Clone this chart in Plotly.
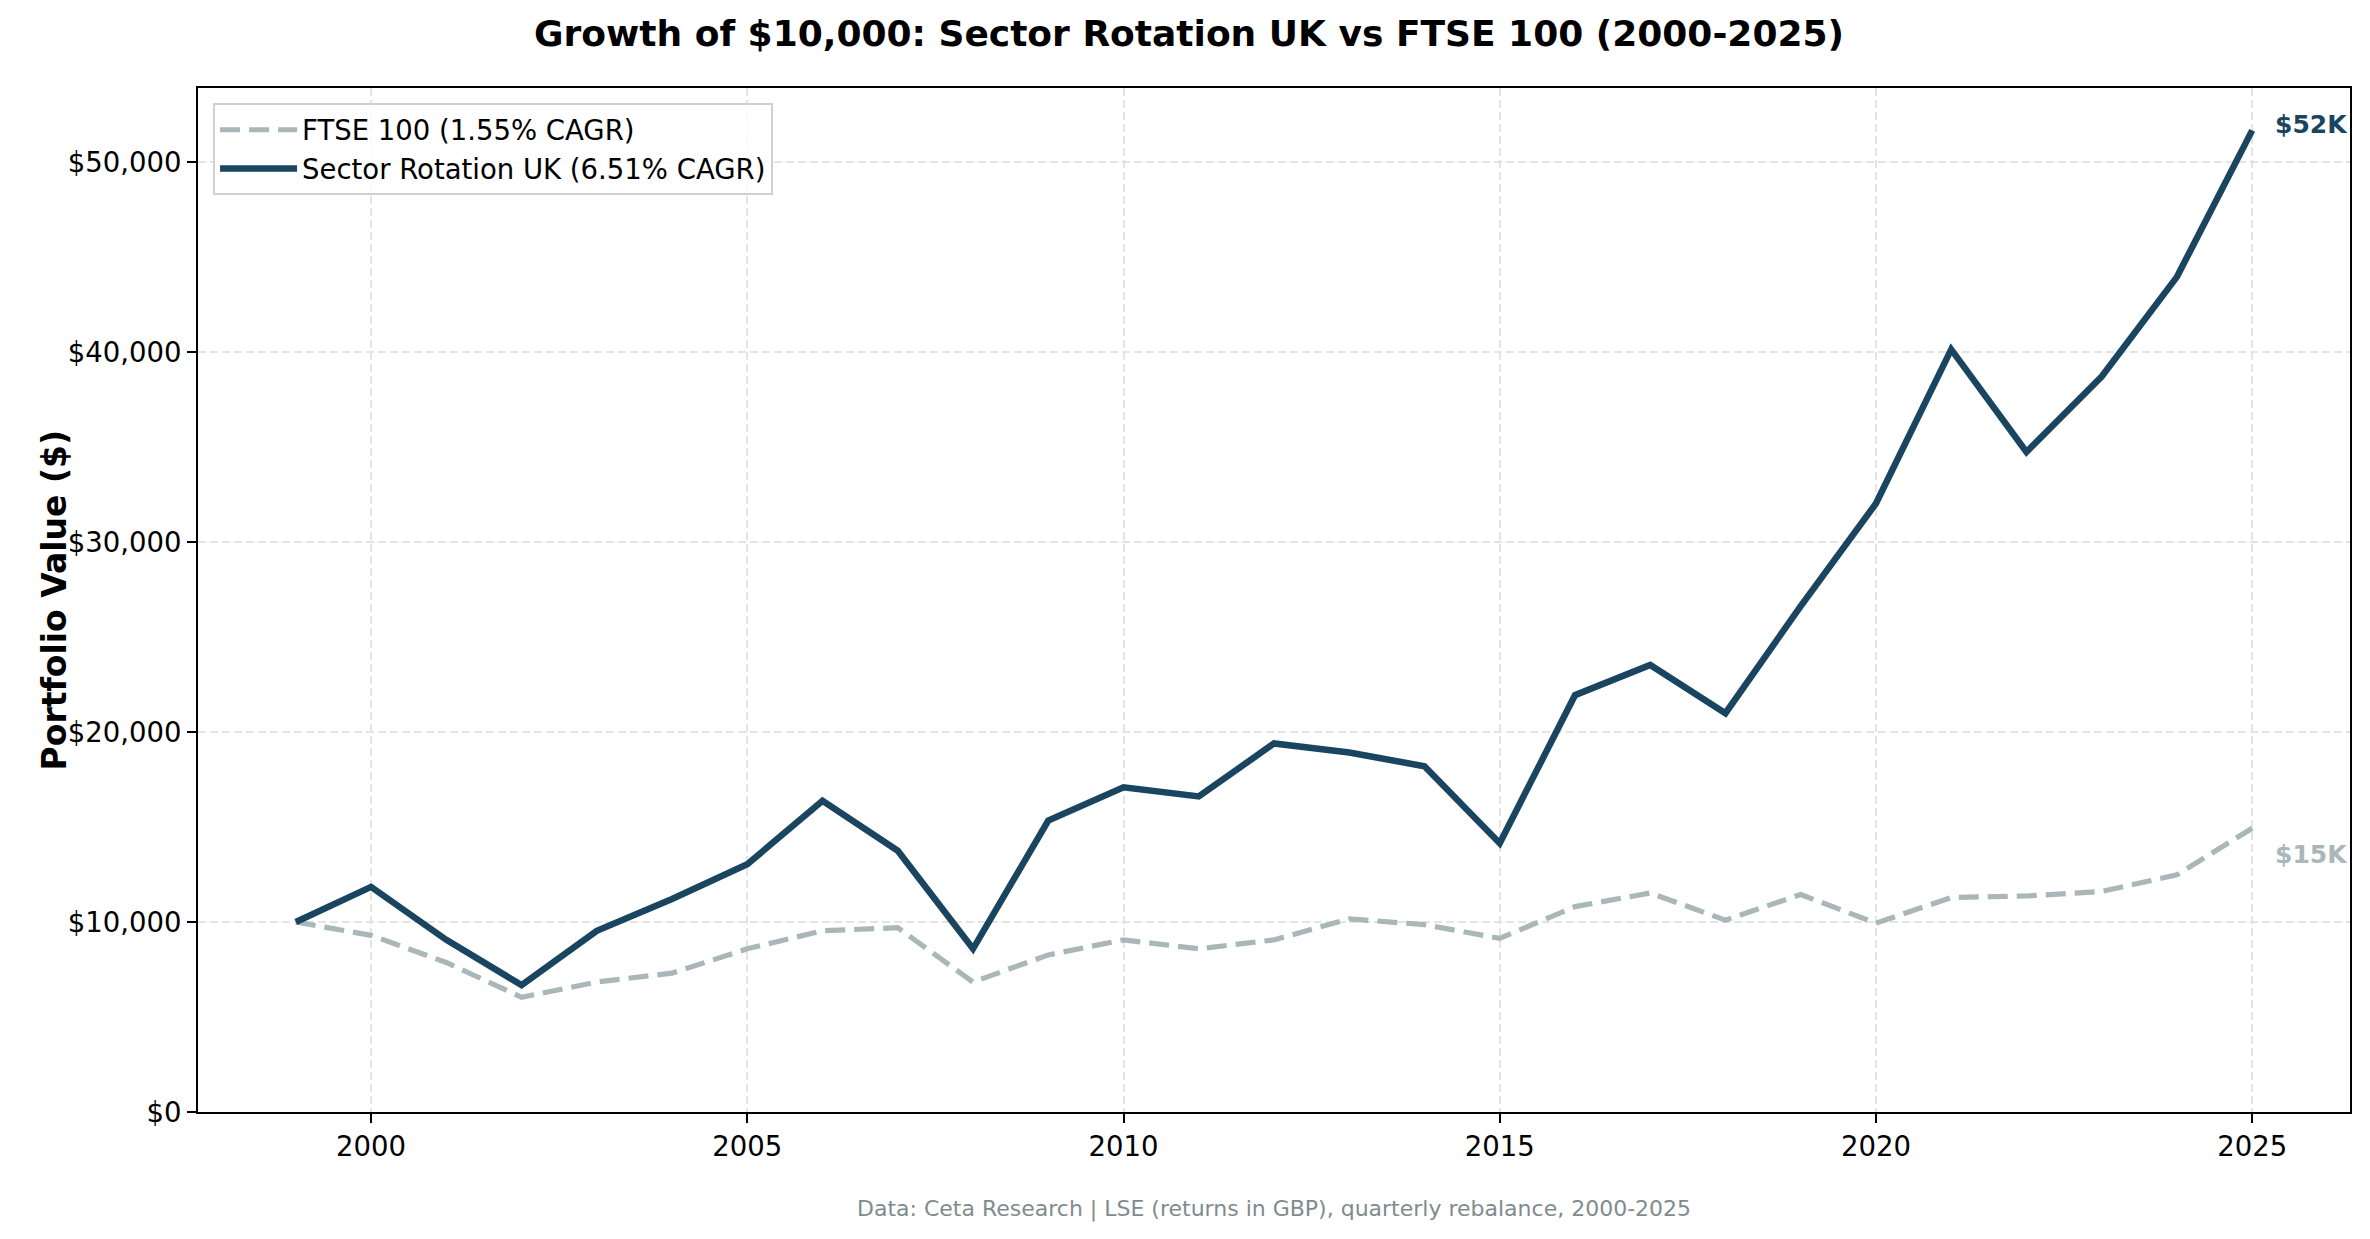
import plotly.graph_objs as go

# values (year-end portfolio values, $)
years = list(range(1999, 2026))
sector_rotation = [10000, 11850, 9060, 6680, 9540, 11210, 13040, 16380, 13750, 8590,
                   15340, 17090, 16610, 19400, 18920, 18200, 14150, 21940, 23530, 20990,
                   26630, 32030, 40140, 34740, 38710, 43960, 51670]
ftse_100 = [10000, 9300, 7870, 6040, 6840, 7310, 8590, 9540, 9700, 6840,
            8270, 9060, 8590, 9060, 10170, 9860, 9140, 10810, 11530, 10100,
            11450, 9940, 11290, 11370, 11610, 12480, 14940]
series_names = ["FTSE 100 (1.55% CAGR)", "Sector Rotation UK (6.51% CAGR)"]
end_labels = ["$15K", "$52K"]

NAVY = "#1a4560"
GREY = "#aab7b8"
FONT = "DejaVu Sans"

fig = go.Figure()
fig.add_trace(go.Scatter(
    x=years, y=ftse_100, mode="lines", name=series_names[0],
    line=dict(color=GREY, width=5.2, dash="20px,9px")))
fig.add_trace(go.Scatter(
    x=years, y=sector_rotation, mode="lines", name=series_names[1],
    line=dict(color=NAVY, width=6.5)))

# end-of-line value labels
fig.add_annotation(x=years[-1], y=sector_rotation[-1], text="<b>" + end_labels[1] + "</b>",
                   showarrow=False, xanchor="left", xshift=21, yshift=6,
                   font=dict(family=FONT, size=25, color=NAVY))
fig.add_annotation(x=years[-1], y=ftse_100[-1], text="<b>" + end_labels[0] + "</b>",
                   showarrow=False, xanchor="left", xshift=21, yshift=-26,
                   font=dict(family=FONT, size=25, color=GREY))

# y axis title and footer
fig.add_annotation(xref="paper", yref="paper", x=-0.0767, y=0.5,
                   text="<b>Portfolio Value ($)</b>", textangle=-90, showarrow=False,
                   font=dict(family=FONT, size=33, color="black"))
fig.add_annotation(xref="paper", yref="paper", x=0.5, y=-0.0947, yanchor="middle",
                   text="Data: Ceta Research | LSE (returns in GBP), quarterly rebalance, 2000-2025",
                   showarrow=False, font=dict(family=FONT, size=22, color="#7f8c8d"))

axis_common = dict(
    showline=True, linecolor="black", linewidth=2.2, mirror=True,
    ticks="outside", ticklen=9, tickwidth=2.2, tickcolor="black",
    showgrid=True, gridcolor="#e4e4e4", griddash="8px,4px", gridwidth=2,
    zeroline=False, tickfont=dict(family=FONT, size=27.5, color="black"))

fig.update_xaxes(range=[1997.7, 2026.3], tick0=2000, dtick=5, **axis_common)
fig.update_yaxes(range=[0, 53900], dtick=10000, tickprefix="$", tickformat=",",
                 **axis_common)

fig.update_layout(
    width=2362, height=1231,
    margin=dict(l=190, r=20, t=80, b=127),
    paper_bgcolor="white", plot_bgcolor="white",
    title=dict(text="<b>Growth of $10,000: Sector Rotation UK vs FTSE 100 (2000-2025)</b>",
               x=0.5, xanchor="center", y=0.9797, yanchor="middle",
               font=dict(family=FONT, size=36, color="black")),
    legend=dict(x=0.007, y=0.985, xanchor="left", yanchor="top",
                bgcolor="rgba(255,255,255,0.8)", bordercolor="#d0d0d0", borderwidth=2,
                font=dict(family=FONT, size=27.5, color="black"), itemwidth=77),
    showlegend=True,
)

fig.write_html("out.html")
